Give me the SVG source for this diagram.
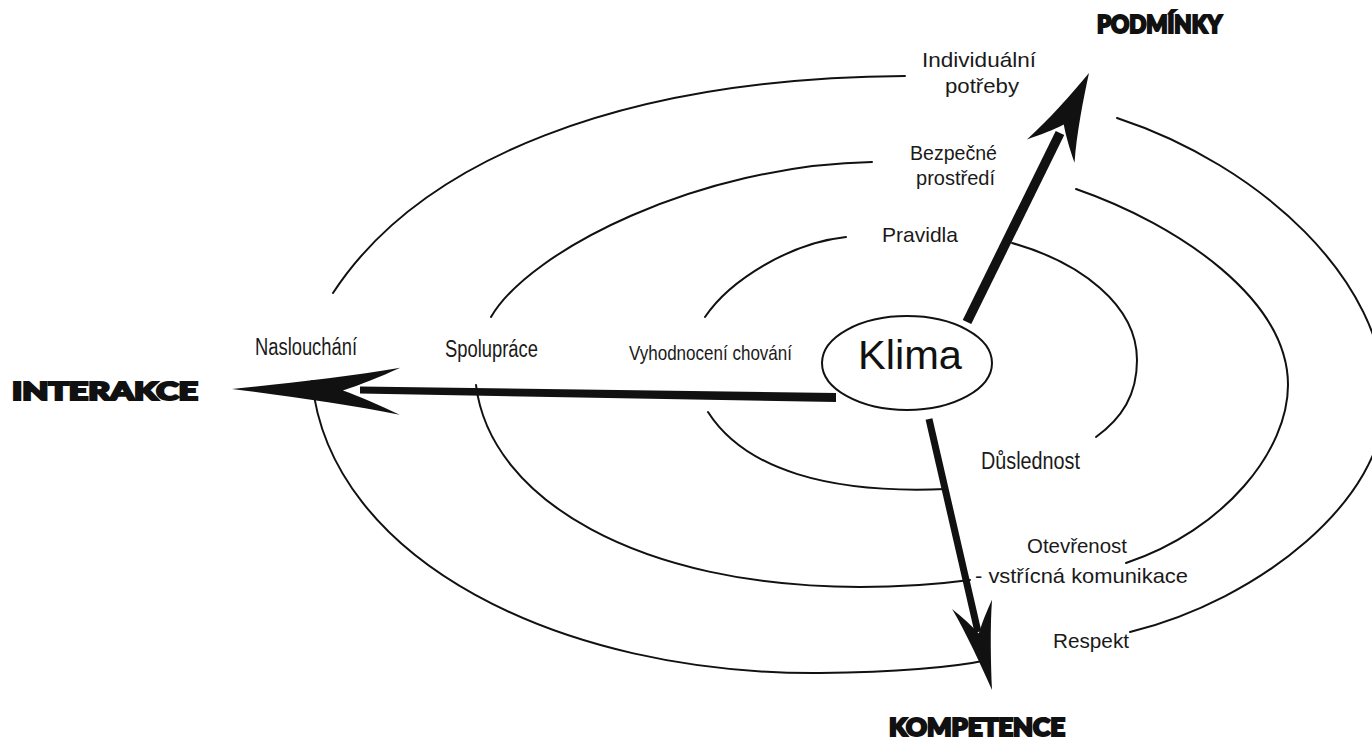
<svg xmlns="http://www.w3.org/2000/svg" width="1372" height="740" viewBox="0 0 1372 740">
<style>
.ring{fill:none;stroke:#111;stroke-width:2;stroke-linecap:round}
.shaft{fill:none;stroke:#111;stroke-linecap:butt}
.head{fill:#111}
.lbl{font-family:"Liberation Sans",Arial,sans-serif;font-size:21px;fill:#1a1a1a}
.big{font-size:23px}
.ttl{font-family:Lato,"DejaVu Sans",sans-serif;font-weight:900;font-size:24px;fill:#111;stroke:#111;stroke-width:2.2}
</style>
<defs>
<path id="ah" d="M0,0 C-30,-6 -70,-15 -100,-25 C-88,-15 -76,-6 -66,0 C-76,6 -88,15 -100,25 C-70,15 -30,6 0,0 Z"/>
</defs>
<rect width="1372" height="740" fill="#fff"/>
<g id="rings">
<path class="ring" d="M705,317 C730,280 790,243 846,237"/>
<path class="ring" d="M1012,243 C1080,262 1137,305 1137,360 C1137,395 1122,418 1096,437"/>
<path class="ring" d="M708,412 C745,470 830,494 946,489"/>
<path class="ring" d="M491,317 C530,250 700,165 872,162"/>
<path class="ring" d="M1076,189 C1180,225 1288,300 1288,385 C1288,450 1225,530 1126,563"/>
<path class="ring" d="M476,385 C490,500 640,587 860,587 C910,587 940,584 970,580"/>
<path class="ring" d="M333,293 C420,160 620,78 905,76"/>
<path class="ring" d="M1117,118 C1260,165 1385,280 1385,400 C1385,500 1260,600 1130,632"/>
<path class="ring" d="M312,381 C330,560 560,675 820,673 C900,672 950,668 988,660"/>
</g>
<g id="connectors">
<polygon class="head" points="836,393 836,402 360,393.5 360,386.5"/>
<use href="#ah" class="head" transform="translate(232,389) rotate(180.8) scale(1.68,0.94)"/>
<line class="shaft" x1="967" y1="322" x2="1060" y2="133" stroke-width="9.5"/>
<use href="#ah" class="head" transform="translate(1089,73) rotate(-63.9) scale(0.87,1.06)"/>
<line class="shaft" x1="929" y1="419" x2="978" y2="632" stroke-width="7"/>
<use href="#ah" class="head" transform="translate(992,690) rotate(76.9) scale(0.88,0.82)"/>
</g>
<g id="klima">
<ellipse cx="907" cy="363" rx="85" ry="47" fill="#fff" stroke="#111" stroke-width="2"/>
<text x="910" y="369" text-anchor="middle" font-family="'Liberation Sans',Arial,sans-serif" font-size="41" fill="#111" textLength="104" lengthAdjust="spacingAndGlyphs">Klima</text>
</g>
<g id="podminky"><text class="ttl" x="1097" y="33" textLength="125" lengthAdjust="spacingAndGlyphs">PODMÍNKY</text></g>
<g id="interakce"><text class="ttl" x="12" y="400" textLength="186" lengthAdjust="spacingAndGlyphs">INTERAKCE</text></g>
<g id="kompetence"><text class="ttl" x="889" y="736" textLength="176" lengthAdjust="spacingAndGlyphs">KOMPETENCE</text></g>
<g id="labels">
<text class="lbl" x="922" y="67" textLength="114" lengthAdjust="spacingAndGlyphs">Individuální</text>
<text class="lbl" x="945" y="93" textLength="74" lengthAdjust="spacingAndGlyphs">potřeby</text>
<text class="lbl" x="910" y="160" textLength="87" lengthAdjust="spacingAndGlyphs">Bezpečné</text>
<text class="lbl" x="916" y="185" textLength="79" lengthAdjust="spacingAndGlyphs">prostředí</text>
<text class="lbl" x="882" y="242" textLength="76" lengthAdjust="spacingAndGlyphs">Pravidla</text>
<text class="lbl big" x="255" y="355" textLength="102" lengthAdjust="spacingAndGlyphs">Naslouchání</text>
<text class="lbl big" x="445" y="357" textLength="93" lengthAdjust="spacingAndGlyphs">Spolupráce</text>
<text class="lbl" x="629" y="360" textLength="163" lengthAdjust="spacingAndGlyphs">Vyhodnocení chování</text>
<text class="lbl big" x="981" y="469" textLength="99" lengthAdjust="spacingAndGlyphs">Důslednost</text>
<text class="lbl" x="1027" y="553" textLength="100" lengthAdjust="spacingAndGlyphs">Otevřenost</text>
<text class="lbl" x="975" y="583" textLength="213" lengthAdjust="spacingAndGlyphs">- vstřícná komunikace</text>
<text class="lbl" x="1053" y="648" textLength="76" lengthAdjust="spacingAndGlyphs">Respekt</text>
</g>
</svg>
